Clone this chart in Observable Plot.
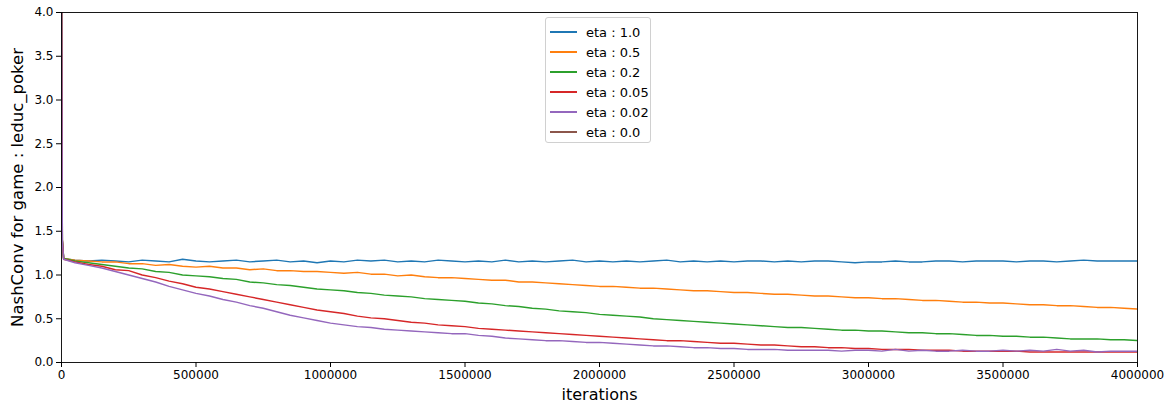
<!DOCTYPE html>
<html>
<head>
<meta charset="utf-8">
<script src="https://cdn.jsdelivr.net/npm/d3@7"></script>
<script src="https://cdn.jsdelivr.net/npm/@observablehq/plot@0.6"></script>
<style>
  body { margin: 0; background: #fff; font-family: "DejaVu Sans", sans-serif; }
  #wrap { position: relative; width: 1168px; height: 402px; }
  #legend {
    position: absolute; left: 545px; top: 17px; width: 106px; height: 126px;
    border: 1px solid #d0d0d0; border-radius: 3px; background: rgba(255,255,255,0.85);
    box-sizing: border-box; font-size: 13px; color: #000;
  }
  .item { position: absolute; left: 4px; height: 20px; display: flex; align-items: center; }
  .sw { width: 27px; height: 0; border-top: 2px solid; margin-right: 9px; }
</style>
</head>
<body>
<div id="wrap"><div id="legend"></div></div>
<script>
// ---- data ----
const etaLabels = ["1.0", "0.5", "0.2", "0.05", "0.02", "0.0"];
const colors = ["#1f77b4", "#ff7f0e", "#2ca02c", "#d62728", "#9467bd", "#8c564b"];

const iterStart = [0, 3000, 8000];
const iterRest = d3.range(50000, 4000001, 50000); // sample grid 50k .. 4M
const iterations = iterStart.concat(iterRest);

const eta1_0 = [4.6, 1.40, 1.19,
  1.17,1.16,1.17,1.16,1.15,1.17,1.16,1.15,1.18,1.16,1.15,1.16,1.17,1.15,1.16,1.17,1.15,1.16,1.14,1.16,
  1.15,1.17,1.16,1.17,1.15,1.16,1.15,1.17,1.16,1.15,1.16,1.15,1.17,1.15,1.16,1.15,1.16,1.17,1.15,1.16,
  1.15,1.16,1.15,1.16,1.17,1.15,1.16,1.15,1.16,1.15,1.16,1.16,1.15,1.16,1.15,1.16,1.16,1.15,1.14,1.15,
  1.15,1.16,1.15,1.15,1.16,1.16,1.15,1.16,1.16,1.16,1.15,1.16,1.16,1.15,1.16,1.17,1.16,1.16,1.16,1.16];
const eta0_5 = [4.6, 1.40, 1.19,
  1.17,1.16,1.15,1.15,1.13,1.13,1.11,1.12,1.10,1.09,1.10,1.08,1.08,1.06,1.07,1.05,1.05,1.04,1.04,1.03,
  1.02,1.03,1.01,1.01,0.99,1.00,0.98,0.97,0.97,0.96,0.95,0.94,0.94,0.92,0.92,0.91,0.90,0.89,0.88,0.87,
  0.87,0.86,0.85,0.85,0.84,0.83,0.82,0.82,0.81,0.80,0.80,0.79,0.78,0.78,0.77,0.76,0.76,0.75,0.74,0.74,
  0.73,0.73,0.72,0.71,0.71,0.70,0.69,0.69,0.68,0.68,0.67,0.66,0.66,0.65,0.65,0.64,0.63,0.63,0.62,0.61];
const eta0_2 = [4.6, 1.40, 1.19,
  1.16,1.14,1.12,1.10,1.08,1.07,1.04,1.03,1.00,0.99,0.98,0.96,0.95,0.92,0.91,0.89,0.88,0.86,0.84,0.83,
  0.82,0.80,0.79,0.77,0.76,0.75,0.73,0.72,0.71,0.70,0.68,0.67,0.65,0.64,0.62,0.61,0.59,0.58,0.57,0.55,
  0.54,0.53,0.52,0.50,0.49,0.48,0.47,0.46,0.45,0.44,0.43,0.42,0.41,0.40,0.40,0.39,0.38,0.37,0.37,0.36,
  0.36,0.35,0.34,0.34,0.33,0.33,0.32,0.31,0.31,0.30,0.30,0.29,0.29,0.28,0.27,0.27,0.27,0.26,0.26,0.25];
const eta0_05 = [4.6, 1.40, 1.18,
  1.15,1.12,1.10,1.06,1.05,1.00,0.97,0.93,0.90,0.86,0.84,0.81,0.78,0.75,0.72,0.69,0.66,0.63,0.60,0.58,
  0.56,0.53,0.51,0.50,0.48,0.46,0.45,0.43,0.42,0.41,0.39,0.38,0.37,0.36,0.35,0.34,0.33,0.32,0.31,0.30,
  0.29,0.28,0.27,0.26,0.25,0.25,0.24,0.23,0.22,0.22,0.21,0.20,0.20,0.19,0.18,0.18,0.17,0.17,0.16,0.16,
  0.15,0.15,0.15,0.14,0.14,0.14,0.13,0.13,0.13,0.13,0.13,0.12,0.12,0.12,0.12,0.12,0.12,0.12,0.12,0.12];
const eta0_02 = [4.6, 1.40, 1.18,
  1.14,1.11,1.08,1.04,1.00,0.96,0.92,0.87,0.83,0.79,0.76,0.72,0.69,0.65,0.62,0.58,0.54,0.51,0.48,0.45,
  0.43,0.41,0.40,0.38,0.37,0.36,0.35,0.34,0.33,0.33,0.31,0.30,0.28,0.27,0.26,0.25,0.25,0.24,0.23,0.23,
  0.22,0.21,0.20,0.19,0.19,0.18,0.17,0.17,0.16,0.16,0.15,0.15,0.15,0.14,0.14,0.14,0.14,0.13,0.14,0.14,
  0.13,0.15,0.13,0.14,0.13,0.13,0.14,0.13,0.13,0.14,0.13,0.14,0.13,0.15,0.13,0.14,0.12,0.13,0.13,0.13];
const eta0_0 = [4.6];

const seriesValues = [eta1_0, eta0_5, eta0_2, eta0_05, eta0_02, eta0_0];

const xTicks = [0, 500000, 1000000, 1500000, 2000000, 2500000, 3000000, 3500000, 4000000];
const yTicks = [0, 0.5, 1, 1.5, 2, 2.5, 3, 3.5, 4];

// ---- table for Plot ----
const rows = [];
seriesValues.forEach((vals, i) => {
  vals.forEach((v, j) => rows.push({eta: etaLabels[i], iter: iterations[j], value: v}));
});

const chart = Plot.plot({
  width: 1168, height: 402,
  marginLeft: 61, marginRight: 31, marginTop: 12, marginBottom: 40,
  style: {fontFamily: "DejaVu Sans", fontSize: "12px", color: "#000", background: "#fff"},
  x: {domain: [0, 4000000]},
  y: {domain: [0, 4]},
  color: {domain: etaLabels, range: colors},
  marks: [
    Plot.line(rows, {x: "iter", y: "value", z: "eta", stroke: "eta", strokeWidth: 1.5, clip: true}),
    Plot.frame({stroke: "#000", strokeWidth: 0.9}),
    Plot.axisX({ticks: xTicks, tickFormat: d => String(d), tickSize: 5, tickPadding: 3, fontSize: 12, label: null}),
    Plot.axisY({ticks: yTicks, tickFormat: d3.format(".1f"), tickSize: 5, tickPadding: 3, fontSize: 12, label: null}),
    Plot.text(["iterations"], {frameAnchor: "bottom", dy: 37, fontSize: 16, fill: "#000", textAnchor: "middle"}),
    Plot.text(["NashConv for game : leduc_poker"], {frameAnchor: "left", dx: -44, rotate: -90, fontSize: 16.5, fill: "#000", textAnchor: "middle"})
  ]
});
document.getElementById("wrap").prepend(chart);

// ---- legend ----
const leg = document.getElementById("legend");
etaLabels.forEach((lab, i) => {
  const it = document.createElement("div");
  it.className = "item";
  it.style.top = (4 + i * 20) + "px";
  it.innerHTML = `<span class="sw" style="border-color:${colors[i]}"></span><span>eta : ${lab}</span>`;
  leg.appendChild(it);
});
</script>
</body>
</html>
